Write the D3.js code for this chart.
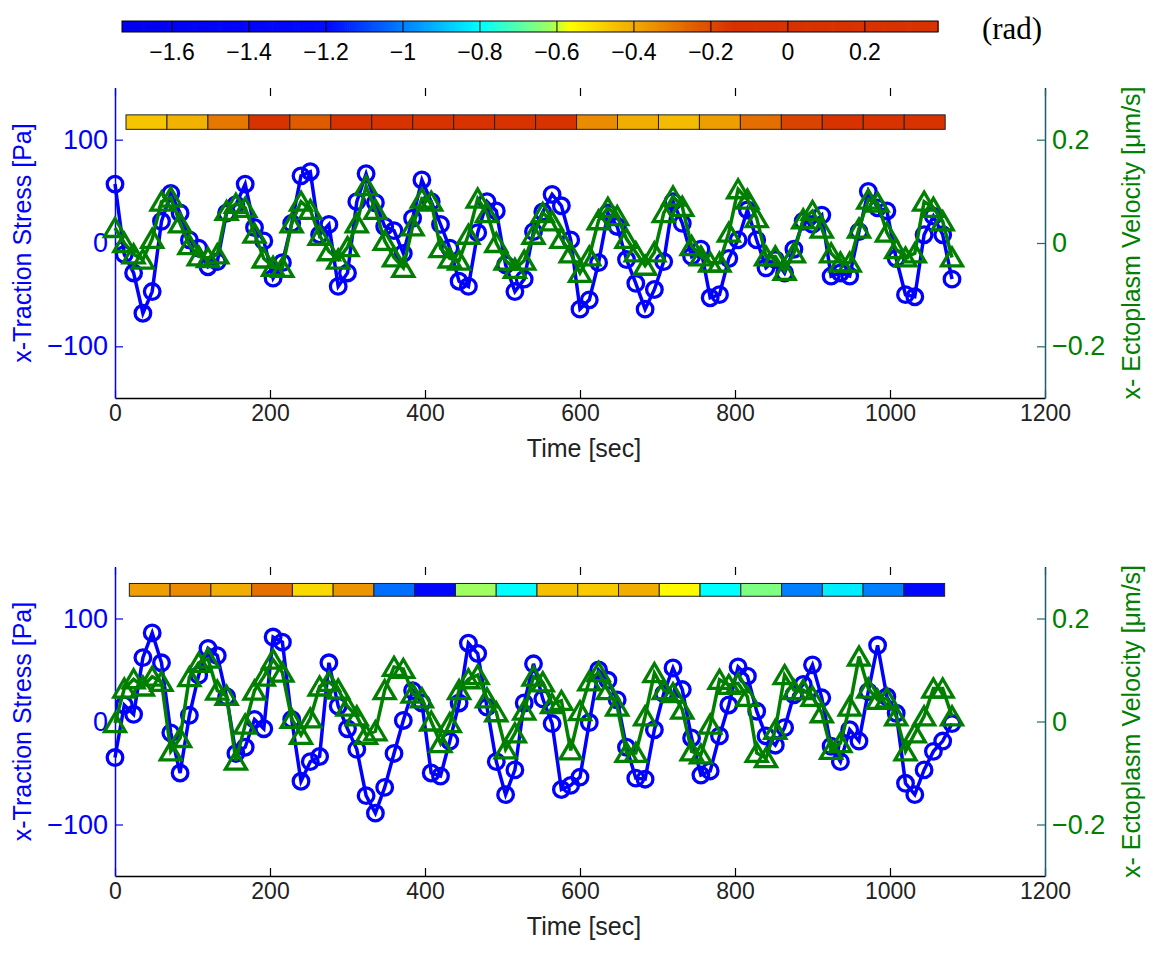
<!DOCTYPE html>
<html>
<head>
<meta charset="utf-8">
<script src="https://cdn.jsdelivr.net/npm/d3@7/dist/d3.min.js"></script>
<style>
  body { margin: 0; background: #fff; }
  text { font-family: "Liberation Sans", Arial, Helvetica, sans-serif; }
</style>
</head>
<body>
<div id="chart"></div>
<script>
// sample times [sec]
let time = [0, 12, 24, 36, 48, 60, 72, 84, 96, 108, 120, 132, 144, 156, 168, 180, 192, 204, 216, 228,
    240, 252, 264, 276, 288, 300, 312, 324, 336, 348, 360, 372, 384, 396, 408, 420, 432, 444, 456, 468,
    480, 492, 504, 516, 528, 540, 552, 564, 576, 588, 600, 612, 624, 636, 648, 660, 672, 684, 696, 708,
    720, 732, 744, 756, 768, 780, 792, 804, 816, 828, 840, 852, 864, 876, 888, 900, 912, 924, 936, 948,
    960, 972, 984, 996, 1008, 1020, 1032, 1044, 1056, 1068, 1080]

// top panel: x-traction stress [Pa] and ectoplasm velocity [um/s]
let stress_top = [57, -11, -29, -68, -47, 21, 48, 29, 3, -5,
    -23, -18, 29, 37, 57, 15, 2, -34, -19, 19,
    65, 69, 8, 18, -42, -29, 40, 67, 39, 16,
    12, -10, 24, 61, 40, 18, -5, -37, -42, 10,
    40, 31, -21, -47, -35, 11, 30, 47, 36, 3,
    -64, -55, -19, 29, 16, -16, -39, -64, -45, -18,
    40, 19, -13, -6, -53, -50, -15, 3, 32, 3,
    -24, -16, -29, -6, 21, 18, 27, -32, -29, -32,
    11, 50, 34, 31, -15, -50, -52, 8, 26, 8,
    -35]
let velocity_top = [0.029, 0.000, -0.022, -0.032, 0.008, 0.080, 0.088, 0.038, -0.004, -0.026,
    -0.029, -0.022, 0.062, 0.076, 0.068, 0.018, -0.030, -0.046, -0.048, 0.038,
    0.080, 0.064, 0.014, -0.016, -0.032, -0.008, 0.038, 0.110, 0.064, 0.004,
    -0.028, -0.048, 0.032, 0.086, 0.080, -0.010, -0.030, -0.034, 0.016, 0.086,
    0.058, 0.000, -0.034, -0.050, -0.034, 0.016, 0.058, 0.042, 0.008, -0.020,
    -0.058, -0.026, 0.044, 0.068, 0.052, 0.008, -0.018, -0.044, -0.018, 0.058,
    0.090, 0.070, -0.006, -0.026, -0.038, -0.038, 0.020, 0.104, 0.084, 0.048,
    -0.026, -0.026, -0.054, -0.020, 0.046, 0.062, 0.028, -0.020, -0.038, -0.038,
    0.028, 0.084, 0.078, 0.020, -0.012, -0.028, -0.020, 0.080, 0.068, 0.042,
    -0.028]

// bottom panel
let stress_bottom = [-35, 16, 7, 62, 86, 57, -11, -50, 6, 45,
    71, 64, 24, -31, -25, 2, -7, 82, 77, 2,
    -58, -39, -34, 57, 15, -7, -27, -72, -89, -64,
    -31, 1, 30, 18, -50, -53, -19, 18, 76, 66,
    14, -39, -71, -47, 18, 56, 22, -2, -66, -62,
    -54, -1, 50, 40, 21, -25, -55, -56, -8, 27,
    52, 31, -16, -52, -48, -14, 16, 53, 44, 10,
    -14, -23, -6, 26, 36, 55, 23, -24, -39, -8,
    -19, 29, 74, 24, 8, -60, -71, -47, -29, -19,
    -2]
let velocity_bottom = [-0.003, 0.064, 0.082, 0.068, 0.087, 0.077, -0.058, -0.032, 0.086, 0.114,
    0.122, 0.060, 0.050, -0.076, -0.006, 0.060, 0.087, 0.120, 0.095, 0.005,
    -0.026, 0.006, 0.068, 0.077, 0.062, 0.029, 0.010, -0.026, -0.019, 0.061,
    0.106, 0.102, 0.054, 0.045, 0.000, -0.042, -0.003, 0.061, 0.082, 0.090,
    0.045, 0.018, -0.054, -0.023, 0.021, 0.087, 0.076, 0.034, 0.040, -0.056,
    0.020, 0.078, 0.096, 0.061, 0.029, -0.061, -0.061, 0.010, 0.094, 0.061,
    0.055, 0.023, -0.058, -0.064, -0.006, 0.081, 0.071, 0.074, 0.048, -0.061,
    -0.071, -0.016, 0.090, 0.061, 0.061, 0.048, 0.016, -0.055, -0.042, 0.029,
    0.126, 0.064, 0.042, 0.045, 0.010, -0.058, -0.023, 0.010, 0.064, 0.064,
    0.010]

// phase of each window [rad]
let phase_top = [-0.46, -0.42, -0.30, -0.05, -0.24, 0.05, 0.00, 0.10, 0.05, 0.00,
    0.05, -0.34, -0.41, -0.44, -0.38, -0.28, -0.19, 0.00, 0.05, 0.10]
let phase_bottom = [-0.38, -0.34, -0.41, -0.28, -0.50, -0.36, -1.03, -1.30, -0.62, -0.80,
    -0.45, -0.47, -0.41, -0.56, -0.80, -0.66, -1.00, -0.83, -1.00, -1.25]

let time_ticks = [0, 200, 400, 600, 800, 1000, 1200]
let stress_ticks = [-100, 0, 100]
let velocity_ticks = [-0.2, 0, 0.2]
let phase_ticks = [-1.6, -1.4, -1.2, -1, -0.8, -0.6, -0.4, -0.2, 0, 0.2]

let blue = "#0000ff"
let green = "#007f00"

let phase_color = d3.scaleLinear()
    .domain([-1.73, -1.2, -1.0, -0.8, -0.62, -0.57, -0.45, -0.35, -0.25, -0.15, 0.39])
    .range(["#0000ee", "#0008ff", "#0080ff", "#00ffff", "#a0ff60", "#ffff00", "#f5c000",
            "#ec9000", "#e06000", "#d83200", "#d83200"])
    .clamp(true)

let fmt = d3.format("")

let svg = d3.select("#chart").append("svg")
    .attr("width", 1159)
    .attr("height", 959)

// colour bar
let cb = d3.scaleLinear().domain([-1.73, 0.39]).range([122, 938])
let cb_steps = d3.range(-1.73, 0.39, 0.005)
svg.append("g").selectAll("rect")
    .data(cb_steps)
    .enter().append("rect")
    .attr("x", d => cb(d))
    .attr("y", 21)
    .attr("width", cb(0.0055) - cb(0) + 0.5)
    .attr("height", 11)
    .style("fill", d => phase_color(d))
svg.append("g").selectAll("line")
    .data(phase_ticks)
    .enter().append("line")
    .attr("x1", d => cb(d)).attr("x2", d => cb(d))
    .attr("y1", 21).attr("y2", 32)
    .style("stroke", "#000").style("stroke-width", 1)
svg.append("rect")
    .attr("x", 122).attr("y", 21).attr("width", 816).attr("height", 11)
    .style("fill", "none").style("stroke", "#000").style("stroke-width", 1)
svg.append("g").selectAll("text")
    .data(phase_ticks)
    .enter().append("text")
    .attr("x", d => cb(d))
    .attr("y", 60)
    .attr("text-anchor", "middle")
    .style("font-size", "23px")
    .text(d => fmt(d))
svg.append("text")
    .attr("x", 1012).attr("y", 39)
    .attr("text-anchor", "middle")
    .style("font-family", "'Liberation Serif', 'Times New Roman', serif")
    .style("font-size", "31px")
    .text("(rad)")

let panels = [
    {y0: 88, y1: 398, stress: stress_top, velocity: velocity_top, phase: phase_top,
     phase_t0: 14.2, phase_dt: 52.85, bar_hi: 124, bar_lo: 110},
    {y0: 567, y1: 876, stress: stress_bottom, velocity: velocity_bottom, phase: phase_bottom,
     phase_t0: 18.5, phase_dt: 52.6, bar_hi: 134, bar_lo: 121.6}
]

let x = d3.scaleLinear().domain([0, 1200]).range([115, 1045])

let tri = "M0,-9.5L10.5,8.5L-10.5,8.5Z"

panels.forEach((p) => {
    let y_left = d3.scaleLinear().domain([-150, 150]).range([p.y1, p.y0])
    let y_right = d3.scaleLinear().domain([-0.3, 0.3]).range([p.y1, p.y0])
    let g = svg.append("g")

    // bottom axis
    let xa = g.append("g")
        .attr("transform", `translate(0,${p.y1})`)
        .call(d3.axisBottom(x).tickValues(time_ticks).tickSizeInner(-8).tickSizeOuter(0).tickPadding(7).tickFormat(fmt))
    xa.select(".domain").style("stroke", "#000").style("stroke-width", 1.5)
    xa.selectAll(".tick line").style("stroke", "#000").style("stroke-width", 1.2)
    xa.selectAll("text").style("font-size", "23px").style("fill", "#222")

    // top edge ticks
    let xt = g.append("g")
        .attr("transform", `translate(0,${p.y0})`)
        .call(d3.axisTop(x).tickValues(time_ticks).tickSizeInner(-8).tickSizeOuter(0).tickFormat(""))
    xt.select(".domain").remove()
    xt.selectAll(".tick line").style("stroke", "#000").style("stroke-width", 1.2)

    // left axis
    let ya = g.append("g")
        .attr("transform", `translate(115,0)`)
        .call(d3.axisLeft(y_left).tickValues(stress_ticks).tickSizeInner(-8).tickSizeOuter(0).tickPadding(7).tickFormat(fmt))
    ya.select(".domain").style("stroke", blue).style("stroke-width", 1.5)
    ya.selectAll(".tick line").style("stroke", blue).style("stroke-width", 1.2)
    ya.selectAll("text").style("font-size", "27px").style("fill", blue)

    // right axis
    let yr = g.append("g")
        .attr("transform", `translate(1045,0)`)
        .call(d3.axisRight(y_right).tickValues(velocity_ticks).tickSizeInner(-8).tickSizeOuter(0).tickPadding(7).tickFormat(fmt))
    yr.select(".domain").style("stroke", "#1c5e6e").style("stroke-width", 1.5)
    yr.selectAll(".tick line").style("stroke", "#1c6e5e").style("stroke-width", 1.2)
    yr.selectAll("text").style("font-size", "27px").style("fill", green)

    // labels
    let ym = (p.y0 + p.y1) / 2
    g.append("text")
        .attr("transform", `translate(22,${ym}) rotate(-90)`)
        .attr("text-anchor", "middle")
        .attr("dominant-baseline", "central")
        .style("font-size", "25px").style("fill", blue)
        .text("x-Traction Stress [Pa]")
    g.append("text")
        .attr("transform", `translate(1131,${ym}) rotate(-90)`)
        .attr("text-anchor", "middle")
        .attr("dominant-baseline", "central")
        .style("font-size", "25px").style("fill", green)
        .text("x- Ectoplasm Velocity [\u03bcm/s]")
    g.append("text")
        .attr("x", 584).attr("y", p.y1 + 59)
        .attr("text-anchor", "middle")
        .style("font-size", "25px").style("fill", "#222")
        .text("Time [sec]")

    // phase bar
    let segs = p.phase.map((v, i) => ({v: v, t: p.phase_t0 + i * p.phase_dt}))
    g.append("g").selectAll("rect")
        .data(segs)
        .enter().append("rect")
        .attr("x", d => x(d.t))
        .attr("y", y_left(p.bar_hi))
        .attr("width", x(p.phase_dt) - x(0))
        .attr("height", y_left(p.bar_lo) - y_left(p.bar_hi))
        .style("fill", d => phase_color(d.v))
        .style("stroke", "#222")
        .style("stroke-width", 1)

    // stress series
    let pts_s = time.map((t, i) => [t, p.stress[i]])
    g.append("path")
        .datum(pts_s)
        .attr("d", d3.line().x(d => x(d[0])).y(d => y_left(d[1])))
        .style("fill", "none").style("stroke", blue).style("stroke-width", 3.5)
    g.append("g").selectAll("circle")
        .data(pts_s)
        .enter().append("circle")
        .attr("cx", d => x(d[0]))
        .attr("cy", d => y_left(d[1]))
        .attr("r", 7.8)
        .style("fill", "none").style("stroke", blue).style("stroke-width", 3.3)

    // velocity series
    let pts_v = time.map((t, i) => [t, p.velocity[i]])
    g.append("path")
        .datum(pts_v)
        .attr("d", d3.line().x(d => x(d[0])).y(d => y_right(d[1])))
        .style("fill", "none").style("stroke", green).style("stroke-width", 3.5)
    g.append("g").selectAll("path")
        .data(pts_v)
        .enter().append("path")
        .attr("d", tri)
        .attr("transform", d => `translate(${x(d[0])},${y_right(d[1])})`)
        .style("fill", "none").style("stroke", green).style("stroke-width", 3.3)
        .style("stroke-linejoin", "miter")
})
</script>
</body>
</html>
